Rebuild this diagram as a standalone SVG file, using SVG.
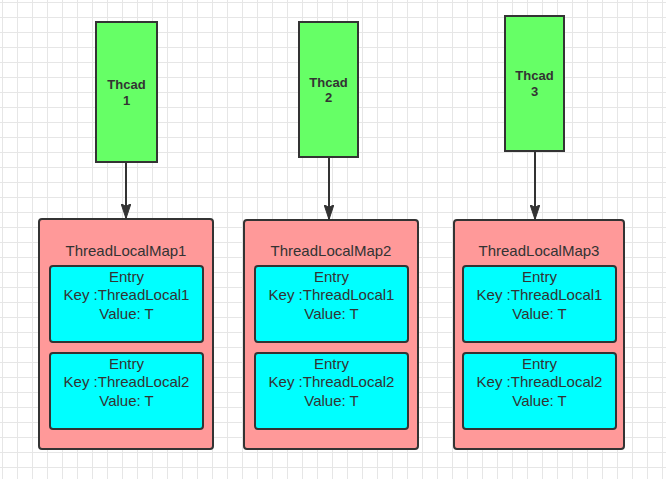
<svg xmlns="http://www.w3.org/2000/svg" width="666" height="479" viewBox="0 0 666 479">
<defs>
<pattern id="grid" x="2" y="2" width="15" height="15" patternUnits="userSpaceOnUse">
<path d="M0.5 0V15M0 0.5H15" stroke="#e6e6e6" stroke-width="1" fill="none"/>
</pattern>
<marker id="arr" viewBox="0 0 16 10" refX="15" refY="5" markerWidth="16" markerHeight="10" markerUnits="userSpaceOnUse" orient="auto">
<path d="M0 0L15 5L0 10L3 5Z" fill="#333" stroke="#333" stroke-width="1"/>
</marker>
</defs>
<style>
.thread{fill:#66FF66;stroke:#333;stroke-width:2}
.map{fill:#FF9999;stroke:#333;stroke-width:2}
.entry{fill:#00FFFF;stroke:#333;stroke-width:2}
.tt{font-family:"Liberation Sans",Arial,sans-serif;font-size:13px;font-weight:bold;fill:#333;text-anchor:middle}
.t{font-family:"Liberation Sans",Arial,sans-serif;font-size:15px;fill:#333;text-anchor:middle}
.conn{stroke:#333;stroke-width:2;fill:none;marker-end:url(#arr)}
</style>
<rect width="666" height="479" fill="#ffffff"/>
<rect width="666" height="479" fill="url(#grid)"/>

<g id="thread1">
<rect class="thread" x="96" y="22" width="61" height="140"/>
<text class="tt" x="126.5" y="89">Thcad</text>
<text class="tt" x="126.5" y="105">1</text>
</g>
<g id="thread2">
<rect class="thread" x="299" y="22" width="59" height="135"/>
<text class="tt" x="328.5" y="86.5">Thcad</text>
<text class="tt" x="328.5" y="102">2</text>
</g>
<g id="thread3">
<rect class="thread" x="505" y="16" width="59" height="135"/>
<text class="tt" x="534.5" y="80">Thcad</text>
<text class="tt" x="534.5" y="95.5">3</text>
</g>

<g id="map1">
<rect class="map" x="39" y="219" width="174" height="230" rx="3"/>
<text class="t" x="126" y="255.5">ThreadLocalMap1</text>
<rect class="entry" x="50" y="266" width="153" height="76" rx="3"/>
<text class="t" x="126.5" y="281.5">Entry</text>
<text class="t" x="126.5" y="300">Key :ThreadLocal1</text>
<text class="t" x="126.5" y="318.5">Value: T</text>
<rect class="entry" x="50" y="353" width="153" height="76" rx="3"/>
<text class="t" x="126.5" y="368.5">Entry</text>
<text class="t" x="126.5" y="387">Key :ThreadLocal2</text>
<text class="t" x="126.5" y="405.5">Value: T</text>
</g>
<g id="map2">
<rect class="map" x="244" y="220" width="174" height="229" rx="3"/>
<text class="t" x="331" y="255.5">ThreadLocalMap2</text>
<rect class="entry" x="255" y="266" width="153" height="76" rx="3"/>
<text class="t" x="331.5" y="281.5">Entry</text>
<text class="t" x="331.5" y="300">Key :ThreadLocal1</text>
<text class="t" x="331.5" y="318.5">Value: T</text>
<rect class="entry" x="255" y="353" width="153" height="76" rx="3"/>
<text class="t" x="331.5" y="368.5">Entry</text>
<text class="t" x="331.5" y="387">Key :ThreadLocal2</text>
<text class="t" x="331.5" y="405.5">Value: T</text>
</g>
<g id="map3">
<rect class="map" x="454" y="220" width="170" height="229" rx="3"/>
<text class="t" x="539" y="255.5">ThreadLocalMap3</text>
<rect class="entry" x="463" y="266" width="153" height="76" rx="3"/>
<text class="t" x="539.5" y="281.5">Entry</text>
<text class="t" x="539.5" y="300">Key :ThreadLocal1</text>
<text class="t" x="539.5" y="318.5">Value: T</text>
<rect class="entry" x="463" y="353" width="153" height="76" rx="3"/>
<text class="t" x="539.5" y="368.5">Entry</text>
<text class="t" x="539.5" y="387">Key :ThreadLocal2</text>
<text class="t" x="539.5" y="405.5">Value: T</text>
</g>

<g id="connectors">
<path class="conn" d="M126 162V218.5"/>
<path class="conn" d="M329 157V219.5"/>
<path class="conn" d="M535 151V219.5"/>
</g>
</svg>
